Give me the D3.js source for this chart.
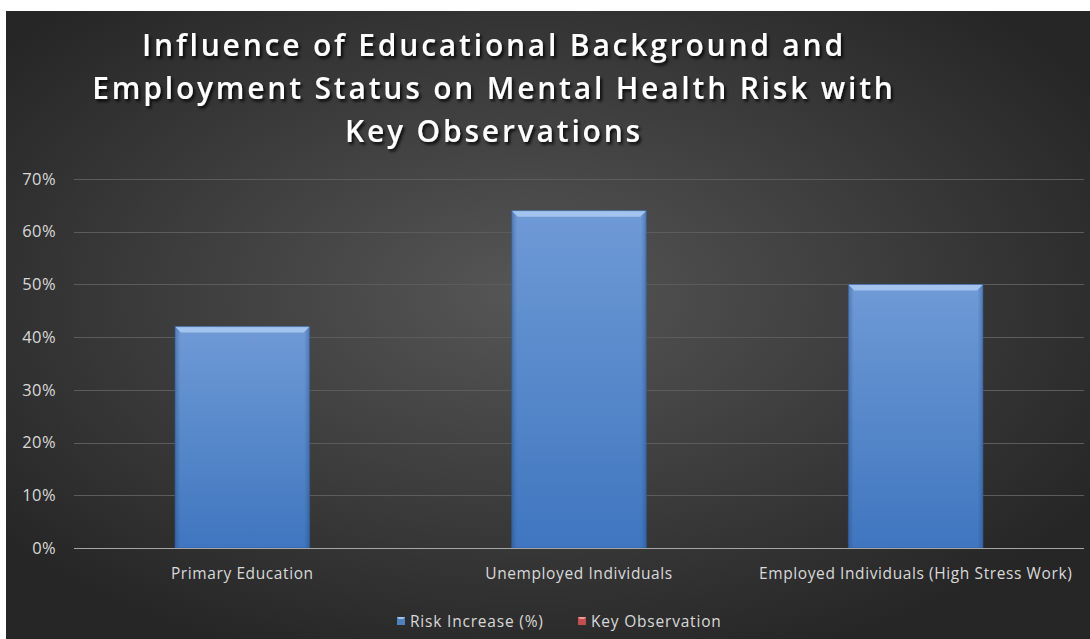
<!DOCTYPE html>
<html>
<head>
<meta charset="utf-8">
<script src="https://cdn.jsdelivr.net/npm/d3@7"></script>
<style>
  html, body { margin: 0; padding: 0; background: #ffffff; }
  svg { display: block; }
  text { font-family: "Open Sans", "Noto Sans", sans-serif; }
</style>
</head>
<body>
<svg id="chart" width="1090" height="639"></svg>
<script>
// Chart data
const categories = ["Primary Education", "Unemployed Individuals", "Employed Individuals (High Stress Work)"];
const riskIncrease = [0.42, 0.64, 0.50];
const seriesNames = ["Risk Increase (%)", "Key Observation"];
const seriesColors = ["#4f81bd", "#c0504d"];
const yTicks = [0, 0.1, 0.2, 0.3, 0.4, 0.5, 0.6, 0.7];
const titleLines = [
  "Influence of Educational Background and",
  "Employment Status on Mental Health Risk with",
  "Key Observations"
];

const W = 1090, H = 639;
const svg = d3.select("#chart");
const defs = svg.append("defs");

// Background: dark radial gradient
const bg = defs.append("radialGradient").attr("id", "bgGrad")
  .attr("cx", "48%").attr("cy", "45%").attr("r", "62%");
bg.append("stop").attr("offset", "0%").attr("stop-color", "#565656");
bg.append("stop").attr("offset", "100%").attr("stop-color", "#262626");

// Bar body gradient
const barGrad = defs.append("linearGradient").attr("id", "barGrad")
  .attr("x1", 0).attr("y1", 0).attr("x2", 0).attr("y2", 1);
barGrad.append("stop").attr("offset", "0%").attr("stop-color", "#6f9ad6");
barGrad.append("stop").attr("offset", "100%").attr("stop-color", "#3f76bf");

// Side shading for bevel look
const sideGrad = defs.append("linearGradient").attr("id", "sideGrad")
  .attr("x1", 0).attr("y1", 0).attr("x2", 1).attr("y2", 0);
sideGrad.append("stop").attr("offset", "0%").attr("stop-color", "#1f3f6e").attr("stop-opacity", 0.35);
sideGrad.append("stop").attr("offset", "4%").attr("stop-color", "#1f3f6e").attr("stop-opacity", 0);
sideGrad.append("stop").attr("offset", "96%").attr("stop-color", "#1f3f6e").attr("stop-opacity", 0);
sideGrad.append("stop").attr("offset", "100%").attr("stop-color", "#1f3f6e").attr("stop-opacity", 0.35);

// Title shadow
const shadow = defs.append("filter").attr("id", "titleShadow")
  .attr("x", "-10%").attr("y", "-30%").attr("width", "120%").attr("height", "160%");
shadow.append("feDropShadow").attr("dx", 2).attr("dy", 2.5).attr("stdDeviation", 1.6)
  .attr("flood-color", "#000").attr("flood-opacity", 0.85);

// Chart area
svg.append("rect").attr("x", 6).attr("y", 11).attr("width", W - 6).attr("height", H - 11)
  .attr("fill", "url(#bgGrad)");

// Title
const title = svg.append("text")
  .attr("text-anchor", "middle")
  .attr("fill", "#ffffff")
  .attr("font-weight", 600)
  .attr("font-size", 30)
  .attr("letter-spacing", 2.8)
  .attr("filter", "url(#titleShadow)");
titleLines.forEach((line, i) => {
  title.append("tspan").attr("x", 494).attr("y", 56 + i * 43).text(line);
});

// Scales
const plot = { left: 74, right: 1084, top: 179, bottom: 548 };
const x = d3.scaleBand().domain(categories)
  .range([plot.left, plot.right]).paddingInner(0.6).paddingOuter(0.3);
const y = d3.scaleLinear().domain([0, 0.7]).range([plot.bottom, plot.top]);

// Gridlines
svg.append("g").selectAll("line").data(yTicks.filter(d => d > 0)).join("line")
  .attr("x1", plot.left).attr("x2", plot.right)
  .attr("y1", d => Math.round(y(d)) + 0.5).attr("y2", d => Math.round(y(d)) + 0.5)
  .attr("stroke", "#5c5c5c").attr("stroke-width", 1);

// Y axis labels
const yAxis = d3.axisLeft(y).tickValues(yTicks).tickFormat(d3.format(".0%")).tickSize(0).tickPadding(18);
const yg = svg.append("g").attr("transform", `translate(${plot.left},0)`).call(yAxis);
yg.select(".domain").remove();
yg.selectAll("text").attr("fill", "#d9d9d9").attr("font-size", 16.5).attr("letter-spacing", 0.4)
  .attr("font-family", "'Open Sans', sans-serif");

// Bars
const bars = svg.append("g").selectAll("g").data(categories).join("g");
bars.append("rect")
  .attr("x", d => x(d)).attr("width", x.bandwidth())
  .attr("y", (d, i) => y(riskIncrease[i]))
  .attr("height", (d, i) => y(0) - y(riskIncrease[i]))
  .attr("fill", "url(#barGrad)");
bars.append("rect")
  .attr("x", d => x(d)).attr("width", x.bandwidth())
  .attr("y", (d, i) => y(riskIncrease[i]))
  .attr("height", (d, i) => y(0) - y(riskIncrease[i]))
  .attr("fill", "url(#sideGrad)");
// Top bevel
const bev = 6;
bars.append("polygon")
  .attr("points", (d, i) => {
    const x0 = x(d), x1 = x(d) + x.bandwidth(), yt = y(riskIncrease[i]);
    return [[x0, yt], [x1, yt], [x1 - bev, yt + bev], [x0 + bev, yt + bev]].map(p => p.join(",")).join(" ");
  })
  .attr("fill", "#a3c4ef");
bars.append("rect")
  .attr("x", d => x(d)).attr("width", x.bandwidth())
  .attr("y", (d, i) => y(riskIncrease[i]))
  .attr("height", (d, i) => y(0) - y(riskIncrease[i]))
  .attr("fill", "none").attr("stroke", "#2d5a94").attr("stroke-opacity", 0.6).attr("stroke-width", 1);

// X axis
svg.append("line")
  .attr("x1", plot.left).attr("x2", plot.right)
  .attr("y1", plot.bottom + 0.5).attr("y2", plot.bottom + 0.5)
  .attr("stroke", "#a6a6a6").attr("stroke-width", 1);
const xAxis = d3.axisBottom(x).tickSize(0).tickPadding(20);
const xg = svg.append("g").attr("transform", `translate(0,${plot.bottom})`).call(xAxis);
xg.select(".domain").remove();
xg.selectAll("text").attr("fill", "#d9d9d9").attr("font-size", 15.5).attr("letter-spacing", 0.6)
  .attr("font-family", "'Open Sans', sans-serif");
// Keep category labels inside the plot's right edge
xg.selectAll(".tick").each(function() {
  const t = d3.select(this).select("text");
  const box = this.getBBox();
  const m = this.getCTM();
  const right = m.e + box.x + box.width;
  if (right > plot.right) t.attr("dx", plot.right - right);
});

// Legend
const legend = svg.append("g").attr("transform", "translate(397,621)");
const legendX = [0, 181];
seriesNames.forEach((name, i) => {
  const g = legend.append("g").attr("transform", `translate(${legendX[i]},0)`);
  g.append("rect").attr("x", 0).attr("y", -4).attr("width", 8).attr("height", 8)
    .attr("fill", seriesColors[i]);
  g.append("polygon").attr("points", "0,-4 8,-4 6,-2 2,-2")
    .attr("fill", i === 0 ? "#a3c4ef" : "#f09a98");
  g.append("text").attr("x", 13).attr("y", 6).attr("fill", "#d9d9d9")
    .attr("font-size", 15.5).attr("letter-spacing", 0.8).text(name);
});
</script>
</body>
</html>
